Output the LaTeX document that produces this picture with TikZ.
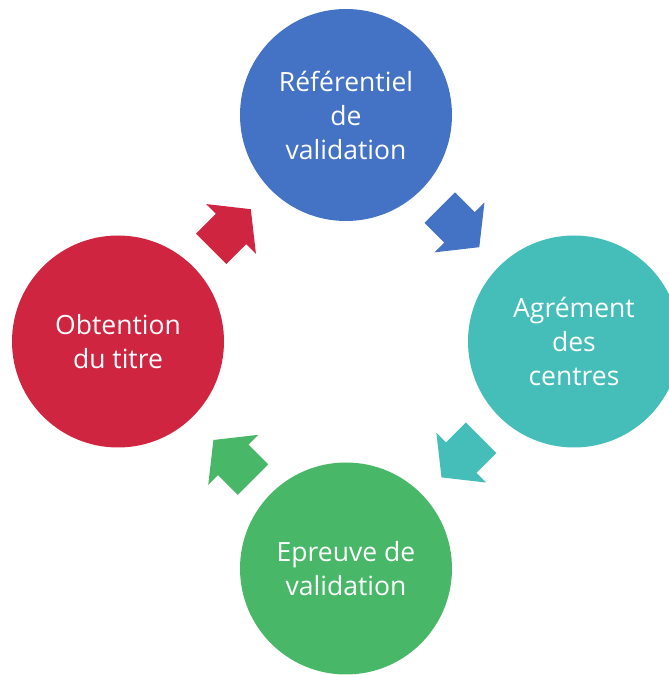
\documentclass[tikz,border=0pt]{standalone}
\usepackage{fontspec}
\setmainfont{Open Sans}
\definecolor{cblue}{HTML}{4472C4}
\definecolor{cteal}{HTML}{45BEB9}
\definecolor{cgreen}{HTML}{48B767}
\definecolor{cred}{HTML}{CF2541}
\begin{document}
\begin{tikzpicture}[x=1pt,y=1pt,
  stage/.style={circle, minimum size=212pt, inner sep=0pt, text=white, align=center,
    font=\fontsize{26.5}{34}\selectfont},
  blockarrow/.pic={\fill[pic actions] (-28,21.5) -- (0,21.5) -- (0,35.3) -- (28,0) -- (0,-35.3) -- (0,-21.5) -- (-28,-21.5) -- cycle;}]
\useasboundingbox (0,0) rectangle (669,675);
\clip (0,0) rectangle (669,675);
\node[stage, fill=cblue] (ref) at (346,560) {Référentiel\\de\\validation};
\node[stage, fill=cteal] (agr) at (574,333.5) {Agrément\\des\\centres};
\node[stage, fill=cgreen] (epr) at (346,106.5) {Epreuve de\\validation};
\node[stage, fill=cred] (obt) at (118,333.5) {Obtention\\du titre};
\pic[fill=cblue, rotate=-45] (a1) at (459.5,447.6) {blockarrow};
\pic[fill=cteal, rotate=-135] (a2) at (461.3,217.4) {blockarrow};
\pic[fill=cgreen, rotate=135] (a3) at (233.2,215.2) {blockarrow};
\pic[fill=cred, rotate=45] (a4) at (231,446) {blockarrow};
\end{tikzpicture}
\end{document}
